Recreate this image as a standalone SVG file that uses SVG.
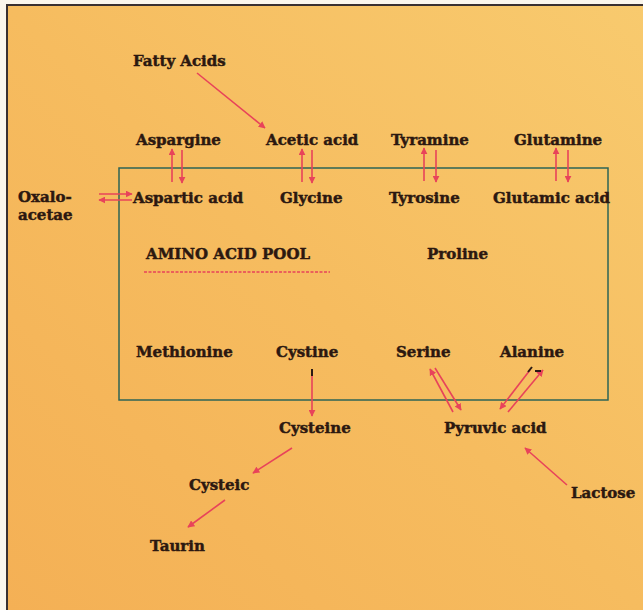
<svg xmlns="http://www.w3.org/2000/svg" width="643" height="610" viewBox="0 0 643 610">
<defs>
<linearGradient id="bg" x1="1" y1="0" x2="0" y2="1">
<stop offset="0" stop-color="#F8CA6E"/>
<stop offset="0.5" stop-color="#F6BC5F"/>
<stop offset="1" stop-color="#F4B055"/>
</linearGradient>
<marker id="ah" viewBox="0 0 10 10" refX="9" refY="5" markerWidth="7" markerHeight="7" markerUnits="userSpaceOnUse" orient="auto">
<path d="M0,0 L10,5 L0,10 z" fill="#E8435A"/>
</marker>
<style>
text{font-family:"DejaVu Serif","Liberation Serif",serif;font-weight:bold;font-size:15px;fill:#2C1810;stroke:#2C1810;stroke-width:0.45px}
.a{stroke:#E8435A;stroke-width:1.6;fill:none;marker-end:url(#ah)}
.tick{stroke:#2A1A14;stroke-width:2}
</style>
</defs>
<rect x="0" y="0" width="643" height="610" fill="#FBF6EC"/>
<rect x="7" y="5" width="636" height="605" fill="url(#bg)"/>
<path d="M7,610 V5 H643" fill="none" stroke="#3A3030" stroke-width="2"/>
<rect x="119" y="168" width="489" height="232" fill="none" stroke="#2E6456" stroke-width="1.5"/>

<g id="connectors">
<line class="a" x1="197" y1="73" x2="265" y2="128"/>
<line class="a" x1="172" y1="182" x2="172" y2="149"/>
<line class="a" x1="182" y1="150" x2="182" y2="183"/>
<line class="a" x1="302" y1="182" x2="302" y2="149"/>
<line class="a" x1="312" y1="150" x2="312" y2="183"/>
<line class="a" x1="424" y1="181" x2="424" y2="148"/>
<line class="a" x1="436" y1="150" x2="436" y2="182"/>
<line class="a" x1="556" y1="181" x2="556" y2="148"/>
<line class="a" x1="568" y1="150" x2="568" y2="182"/>
<line class="a" x1="99" y1="194" x2="132" y2="194"/>
<line class="a" x1="132" y1="200" x2="99" y2="200"/>
<line class="a" x1="312" y1="371" x2="312" y2="416"/>
<line class="tick" x1="312" y1="369" x2="312" y2="376"/>
<line class="a" x1="453" y1="412" x2="430" y2="369"/>
<line class="a" x1="435" y1="368" x2="461" y2="410"/>
<line class="a" x1="530" y1="370" x2="500" y2="409"/>
<line class="a" x1="508" y1="412" x2="543" y2="370"/>
<line class="tick" x1="528" y1="372" x2="532" y2="367"/>
<line class="tick" x1="535" y1="371" x2="541" y2="371"/>
<line class="a" x1="292" y1="448" x2="253" y2="473"/>
<line class="a" x1="225" y1="500" x2="188" y2="527"/>
<line class="a" x1="567" y1="485" x2="525" y2="448"/>
</g>

<g id="fatty-acids"><text x="133" y="66">Fatty Acids</text></g>
<g id="aspargine"><text x="136" y="145">Aspargine</text></g>
<g id="acetic-acid"><text x="266" y="145">Acetic acid</text></g>
<g id="tyramine"><text x="391" y="145">Tyramine</text></g>
<g id="glutamine"><text x="514" y="145">Glutamine</text></g>
<g id="oxaloacetae"><text x="18" y="202">Oxalo-</text><text x="18" y="220">acetae</text></g>
<g id="aspartic-acid"><text x="133" y="203">Aspartic acid</text></g>
<g id="glycine"><text x="280" y="203">Glycine</text></g>
<g id="tyrosine"><text x="389" y="203">Tyrosine</text></g>
<g id="glutamic-acid"><text x="493" y="203">Glutamic acid</text></g>
<g id="pool"><text x="146" y="259">AMINO ACID POOL</text>
<line x1="144" y1="272" x2="330" y2="272" stroke="#E8435A" stroke-width="1.5" stroke-dasharray="3,1.5"/></g>
<g id="proline"><text x="427" y="259">Proline</text></g>
<g id="methionine"><text x="136" y="357">Methionine</text></g>
<g id="cystine"><text x="276" y="357">Cystine</text></g>
<g id="serine"><text x="396" y="357">Serine</text></g>
<g id="alanine"><text x="500" y="357">Alanine</text></g>
<g id="cysteine"><text x="279" y="433">Cysteine</text></g>
<g id="pyruvic-acid"><text x="444" y="433">Pyruvic acid</text></g>
<g id="cysteic"><text x="189" y="490">Cysteic</text></g>
<g id="lactose"><text x="571" y="498">Lactose</text></g>
<g id="taurin"><text x="150" y="551">Taurin</text></g>
</svg>
